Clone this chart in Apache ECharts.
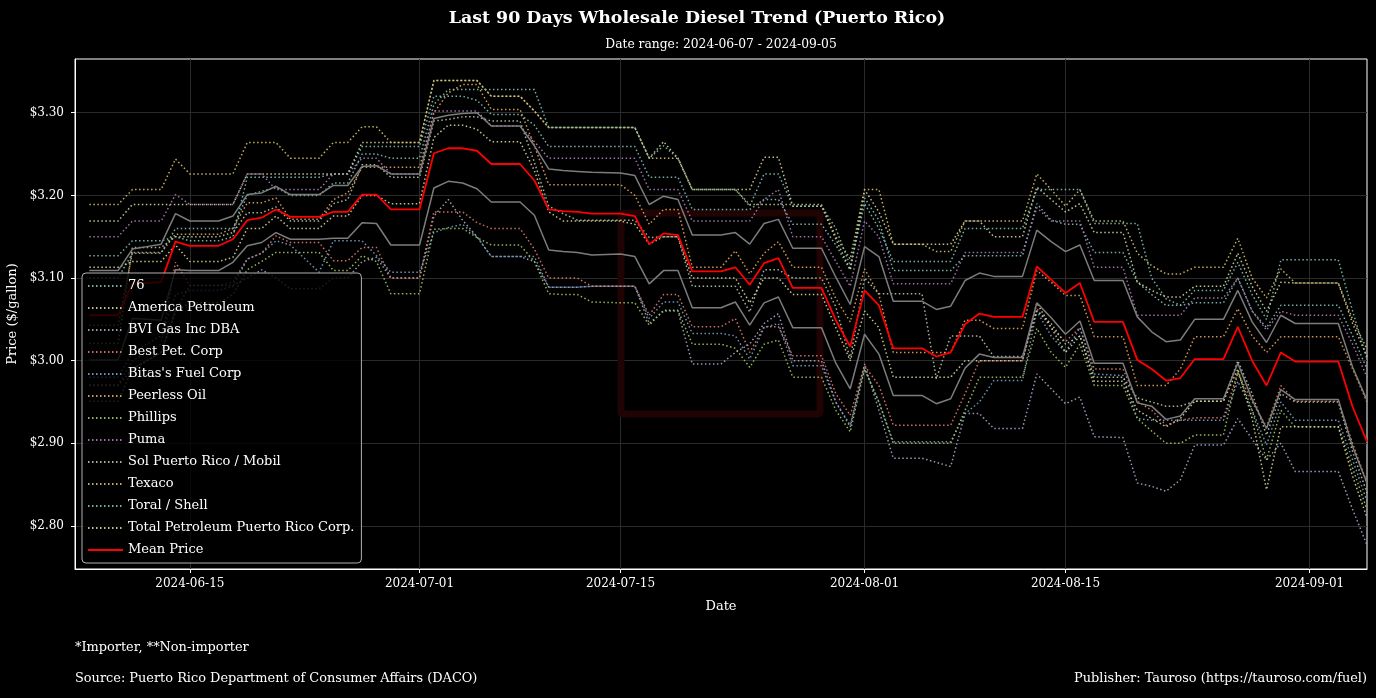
<!DOCTYPE html>
<html><head><meta charset="utf-8">
<script src="https://cdn.jsdelivr.net/npm/echarts@6/dist/echarts.min.js"></script>
<style>html,body{margin:0;padding:0;background:#000;}#c{width:1376px;height:698px;}</style>
</head><body><div id="c"></div>
<script>
const dates = [
'2024-06-08',
'2024-06-10','2024-06-11','2024-06-12','2024-06-13','2024-06-14','2024-06-15',
'2024-06-17','2024-06-18','2024-06-19','2024-06-20','2024-06-21','2024-06-22',
'2024-06-24','2024-06-25','2024-06-26','2024-06-27','2024-06-28','2024-06-29',
'2024-07-01','2024-07-02','2024-07-03','2024-07-04','2024-07-05','2024-07-06',
'2024-07-08','2024-07-09','2024-07-10','2024-07-11','2024-07-12','2024-07-13',
'2024-07-15','2024-07-16','2024-07-17','2024-07-18','2024-07-19','2024-07-20',
'2024-07-22','2024-07-23','2024-07-24','2024-07-25','2024-07-26','2024-07-27',
'2024-07-29','2024-07-30','2024-07-31','2024-08-01','2024-08-02','2024-08-03',
'2024-08-05','2024-08-06','2024-08-07','2024-08-08','2024-08-09','2024-08-10',
'2024-08-12','2024-08-13','2024-08-14','2024-08-15','2024-08-16','2024-08-17',
'2024-08-19','2024-08-20','2024-08-21','2024-08-22','2024-08-23','2024-08-24',
'2024-08-26','2024-08-27','2024-08-28','2024-08-29','2024-08-30','2024-08-31',
'2024-09-02','2024-09-03','2024-09-04','2024-09-05'];

const meanPrice = [
3.055,
3.055,3.093,3.094,3.095,3.144,3.139,
3.139,3.147,3.170,3.173,3.183,3.174,
3.174,3.180,3.180,3.201,3.201,3.183,
3.183,3.251,3.257,3.257,3.254,3.238,
3.238,3.218,3.183,3.181,3.180,3.178,
3.178,3.175,3.141,3.154,3.152,3.108,
3.108,3.113,3.092,3.118,3.124,3.088,
3.088,3.049,3.017,3.085,3.067,3.015,
3.015,3.005,3.010,3.044,3.057,3.053,
3.053,3.114,3.098,3.082,3.094,3.047,
3.047,3.001,2.990,2.976,2.979,3.002,
3.002,3.041,3.000,2.970,3.010,2.999,
2.999,2.999,2.944,2.902];

const stdDev = [
0.054,
0.054,0.042,0.044,0.046,0.034,0.030,
0.030,0.028,0.031,0.030,0.028,0.027,
0.027,0.032,0.032,0.034,0.035,0.043,
0.043,0.042,0.040,0.042,0.046,0.046,
0.046,0.042,0.049,0.049,0.049,0.050,
0.049,0.049,0.048,0.045,0.043,0.044,
0.044,0.042,0.049,0.048,0.047,0.048,
0.048,0.052,0.051,0.053,0.059,0.057,
0.057,0.057,0.056,0.053,0.049,0.049,
0.049,0.044,0.046,0.050,0.046,0.050,
0.050,0.052,0.045,0.047,0.046,0.048,
0.048,0.044,0.047,0.052,0.045,0.046,
0.046,0.046,0.048,0.050];

const p76 = [
3.127,
3.127,3.145,3.145,3.145,3.150,3.145,
3.145,3.150,3.222,3.222,3.222,3.222,
3.222,3.226,3.226,3.259,3.259,3.259,
3.259,3.320,3.320,3.320,3.315,3.298,
3.298,3.285,3.259,3.259,3.259,3.259,
3.259,3.259,3.222,3.222,3.222,3.183,
3.183,3.183,3.183,3.195,3.195,3.165,
3.165,3.140,3.110,3.197,3.170,3.109,
3.109,3.109,3.109,3.127,3.127,3.127,
3.127,3.190,3.170,3.165,3.165,3.131,
3.131,3.095,3.080,3.067,3.067,3.070,
3.070,3.100,3.060,3.040,3.067,3.067,
3.067,3.067,3.030,2.990];

const pAmerica = [
3.169,
3.169,3.189,3.189,3.189,3.189,3.189,
3.189,3.189,3.226,3.226,3.226,3.226,
3.226,3.226,3.226,3.264,3.264,3.264,
3.264,3.339,3.339,3.339,3.339,3.320,
3.320,3.302,3.282,3.282,3.282,3.282,
3.282,3.282,3.245,3.265,3.245,3.207,
3.207,3.207,3.207,3.246,3.246,3.187,
3.187,3.147,3.110,3.207,3.180,3.141,
3.141,3.141,3.141,3.169,3.169,3.150,
3.150,3.210,3.195,3.180,3.190,3.155,
3.155,3.095,3.085,3.077,3.077,3.090,
3.090,3.130,3.090,3.060,3.095,3.094,
3.094,3.094,3.045,3.005];

const pBVI = [
2.970,
2.970,2.990,3.000,3.010,3.060,3.091,
3.091,3.091,3.100,3.110,3.100,3.087,
3.087,3.100,3.100,3.120,3.125,3.100,
3.100,3.175,3.195,3.170,3.150,3.126,
3.126,3.120,3.089,3.089,3.089,3.090,
3.090,3.090,3.045,3.060,3.060,2.996,
2.996,3.010,3.020,3.045,3.057,3.000,
3.000,2.950,2.920,2.996,2.940,2.882,
2.882,2.877,2.872,2.936,2.936,2.918,
2.918,2.984,2.966,2.948,2.956,2.908,
2.907,2.852,2.848,2.842,2.856,2.898,
2.898,2.930,2.905,2.880,2.900,2.866,
2.866,2.866,2.820,2.777];

const pBest = [
2.971,
2.971,3.000,3.010,3.020,3.119,3.091,
3.091,3.095,3.123,3.130,3.151,3.143,
3.143,3.121,3.121,3.137,3.137,3.100,
3.100,3.180,3.180,3.180,3.167,3.160,
3.160,3.135,3.100,3.100,3.100,3.090,
3.090,3.090,3.055,3.080,3.080,3.041,
3.041,3.051,3.010,3.041,3.041,3.006,
3.006,2.960,2.934,2.994,2.970,2.922,
2.922,2.922,2.922,2.960,3.000,3.000,
3.000,3.063,3.040,3.023,3.040,2.990,
2.990,2.951,2.940,2.922,2.928,2.931,
2.931,2.986,2.950,2.920,2.970,2.951,
2.951,2.951,2.900,2.852];

const pBitas = [
2.980,
2.980,3.010,3.020,3.030,3.080,3.085,
3.085,3.090,3.123,3.130,3.145,3.140,
3.107,3.145,3.145,3.145,3.127,3.107,
3.107,3.155,3.161,3.165,3.150,3.126,
3.126,3.126,3.089,3.089,3.089,3.090,
3.090,3.090,3.051,3.071,3.071,3.033,
3.033,3.030,3.002,3.040,3.045,2.994,
2.994,2.950,2.922,2.990,2.950,2.902,
2.902,2.902,2.902,2.936,2.950,2.976,
2.976,3.060,3.030,3.010,3.040,2.984,
2.982,2.930,2.928,2.928,2.928,2.928,
2.928,2.975,2.940,2.898,2.950,2.928,
2.928,2.928,2.880,2.830];

const pPeerless = [
3.043,
3.043,3.131,3.131,3.131,3.153,3.153,
3.153,3.160,3.191,3.191,3.197,3.171,
3.171,3.195,3.203,3.234,3.234,3.234,
3.234,3.300,3.324,3.334,3.334,3.304,
3.304,3.260,3.213,3.213,3.213,3.213,
3.213,3.200,3.165,3.183,3.183,3.113,
3.113,3.133,3.105,3.130,3.144,3.113,
3.113,3.075,3.047,3.111,3.080,3.010,
3.010,3.010,3.010,3.049,3.049,3.039,
3.039,3.109,3.095,3.079,3.079,3.029,
3.029,2.970,2.970,2.970,2.990,3.029,
3.029,3.063,3.030,3.010,3.029,3.029,
3.029,3.029,2.990,2.950];

const pPhillips = [
2.951,
2.951,2.990,3.000,3.010,3.060,3.070,
3.070,3.080,3.110,3.120,3.131,3.131,
3.131,3.109,3.109,3.127,3.120,3.081,
3.081,3.159,3.160,3.160,3.149,3.140,
3.140,3.120,3.081,3.080,3.080,3.071,
3.070,3.070,3.043,3.061,3.061,3.020,
3.020,3.015,2.992,3.020,3.025,2.980,
2.980,2.940,2.914,2.990,2.950,2.900,
2.900,2.900,2.900,2.940,2.980,2.980,
2.980,3.039,3.010,2.992,3.020,2.970,
2.970,2.930,2.915,2.900,2.900,2.910,
2.910,2.986,2.940,2.880,2.940,2.920,
2.920,2.920,2.870,2.820];

const pPuma = [
3.150,
3.150,3.169,3.169,3.169,3.201,3.189,
3.189,3.189,3.226,3.226,3.207,3.207,
3.207,3.226,3.226,3.245,3.245,3.226,
3.226,3.302,3.302,3.302,3.302,3.284,
3.284,3.265,3.245,3.245,3.245,3.245,
3.245,3.245,3.207,3.207,3.207,3.169,
3.169,3.169,3.169,3.195,3.207,3.150,
3.150,3.120,3.090,3.169,3.150,3.093,
3.093,3.093,3.093,3.131,3.131,3.131,
3.131,3.185,3.169,3.169,3.169,3.113,
3.113,3.055,3.055,3.055,3.055,3.076,
3.076,3.100,3.060,3.037,3.060,3.055,
3.055,3.055,3.020,2.980];

const pSol = [
3.021,
3.021,3.137,3.137,3.137,3.150,3.150,
3.150,3.155,3.179,3.179,3.186,3.169,
3.169,3.190,3.195,3.237,3.237,3.222,
3.222,3.290,3.292,3.295,3.295,3.290,
3.290,3.240,3.187,3.178,3.170,3.170,
3.170,3.170,3.149,3.150,3.150,3.090,
3.090,3.090,3.059,3.110,3.110,3.100,
3.100,3.065,3.002,3.100,3.081,3.081,
3.081,2.978,3.030,3.030,3.030,3.005,
3.005,3.060,3.045,3.020,3.030,2.980,
2.980,2.955,2.950,2.945,2.945,2.951,
2.951,3.000,2.960,2.910,2.960,2.950,
2.950,2.950,2.890,2.840];

const pTexaco = [
3.189,
3.189,3.207,3.207,3.207,3.244,3.226,
3.226,3.226,3.264,3.264,3.264,3.245,
3.245,3.264,3.264,3.283,3.283,3.264,
3.264,3.339,3.339,3.339,3.339,3.320,
3.320,3.302,3.282,3.282,3.282,3.282,
3.282,3.282,3.245,3.245,3.245,3.207,
3.207,3.207,3.189,3.189,3.189,3.189,
3.189,3.150,3.123,3.207,3.207,3.141,
3.141,3.132,3.132,3.169,3.169,3.169,
3.169,3.226,3.207,3.187,3.207,3.169,
3.169,3.130,3.115,3.105,3.105,3.113,
3.113,3.148,3.100,3.076,3.111,3.094,
3.094,3.094,3.050,3.014];

const pToral = [
3.100,
3.100,3.130,3.130,3.130,3.160,3.160,
3.160,3.160,3.200,3.205,3.210,3.200,
3.200,3.215,3.215,3.250,3.250,3.245,
3.245,3.310,3.328,3.328,3.328,3.328,
3.328,3.328,3.282,3.282,3.282,3.282,
3.282,3.282,3.245,3.260,3.245,3.207,
3.207,3.207,3.187,3.226,3.226,3.187,
3.187,3.160,3.115,3.190,3.160,3.120,
3.120,3.120,3.120,3.160,3.160,3.160,
3.160,3.207,3.207,3.207,3.207,3.166,
3.166,3.166,3.100,3.075,3.067,3.085,
3.085,3.119,3.080,3.050,3.122,3.122,
3.122,3.122,3.060,3.002];

const pTotal = [
3.113,
3.113,3.120,3.120,3.120,3.140,3.120,
3.120,3.125,3.160,3.160,3.175,3.160,
3.160,3.175,3.175,3.200,3.200,3.190,
3.190,3.270,3.285,3.285,3.280,3.265,
3.265,3.230,3.180,3.169,3.169,3.169,
3.169,3.165,3.141,3.150,3.150,3.100,
3.100,3.100,3.070,3.100,3.100,3.080,
3.080,3.040,3.000,3.060,3.040,2.980,
2.980,2.980,2.980,3.000,3.000,3.000,
3.000,3.070,3.040,3.010,3.030,2.975,
2.975,2.940,2.930,2.920,2.930,2.951,
2.951,2.990,2.930,2.844,2.920,2.920,
2.920,2.920,2.860,2.810];

const stationNames = ['76','America Petroleum','BVI Gas Inc DBA','Best Pet. Corp',"Bitas's Fuel Corp",'Peerless Oil','Phillips','Puma','Sol Puerto Rico / Mobil','Texaco','Toral / Shell','Total Petroleum Puerto Rico Corp.'];
const stationValues = [p76,pAmerica,pBVI,pBest,pBitas,pPeerless,pPhillips,pPuma,pSol,pTexaco,pToral,pTotal];
const stationColors = ['#7fc1b6','#d6d59c','#a9a7c8','#e27b6e','#76a2c6','#e6a55c','#a2c862','#b07cb9','#b6c8a8','#d6c266','#7fc1b6','#d6d59c'];
const xTickDates = ['2024-06-15','2024-07-01','2024-07-15','2024-08-01','2024-08-15','2024-09-01'];
const yTickValues = [2.8,2.9,3.0,3.1,3.2,3.3];

const FONT = "'DejaVu Serif', serif";
function ts(s){const p=s.split('-').map(Number);return Date.UTC(p[0],p[1]-1,p[2]);}
function fmtDate(v){const d=new Date(v);return d.getUTCFullYear()+'-'+String(d.getUTCMonth()+1).padStart(2,'0')+'-'+String(d.getUTCDate()).padStart(2,'0');}
function pairs(vals){return dates.map((d,i)=>[ts(d),vals[i]]);}

const series = [];
stationNames.forEach((n,i)=>{
  series.push({name:n,type:'line',data:pairs(stationValues[i]),symbol:'none',silent:true,
    lineStyle:{color:stationColors[i],width:1.5,type:[1.5,2.5],opacity:0.9},itemStyle:{color:stationColors[i]},z:2});
});
const lower = meanPrice.map((m,i)=>+(m-stdDev[i]).toFixed(4));
const upper = meanPrice.map((m,i)=>+(m+stdDev[i]).toFixed(4));
const width2 = stdDev.map(s=>+(2*s).toFixed(4));
series.push({name:'bandBase',type:'line',stack:'band',data:pairs(lower),symbol:'none',silent:true,lineStyle:{opacity:0},z:3});
series.push({name:'bandFill',type:'line',stack:'band',data:pairs(width2),symbol:'none',silent:true,lineStyle:{opacity:0},areaStyle:{color:'rgba(255,255,255,0.2)'},z:3});
series.push({name:'bandUpper',type:'line',data:pairs(upper),symbol:'none',silent:true,lineStyle:{color:'#7c7c7c',width:1.5},z:3});
series.push({name:'bandLower',type:'line',data:pairs(lower),symbol:'none',silent:true,lineStyle:{color:'#7c7c7c',width:1.5},z:3});
series.push({name:'Mean Price',type:'line',data:pairs(meanPrice),symbol:'none',silent:true,lineStyle:{color:'#ff0000',width:1.8},itemStyle:{color:'#ff0000'},z:4});

const chart = echarts.init(document.getElementById('c'),null,{renderer:'canvas'});
chart.setOption({
  backgroundColor:'#000',
  animation:false,
  textStyle:{fontFamily:FONT},
  grid:{left:75,top:59,width:1292,height:510,show:true,borderColor:'#ffffff',borderWidth:1,backgroundColor:'transparent',containLabel:false,outerBoundsMode:'none'},
  xAxis:{type:'value',min:ts('2024-06-07'),max:ts('2024-09-05'),
    name:'Date',nameLocation:'middle',nameGap:31,nameTextStyle:{color:'#fff',fontSize:13,fontFamily:FONT},
    axisLine:{show:true,lineStyle:{color:'#fff'}},
    axisTick:{show:true,inside:false,length:4,lineStyle:{color:'#fff'},customValues:xTickDates.map(ts)},
    axisLabel:{color:'#fff',fontSize:12,fontFamily:FONT,margin:9,customValues:xTickDates.map(ts),formatter:fmtDate},
    splitLine:{show:true,lineStyle:{color:'#2b2b2b',width:1}}
  },
  yAxis:{type:'value',min:2.748,max:3.365,
    name:'Price ($/gallon)',nameLocation:'middle',nameGap:46,nameTextStyle:{color:'#fff',fontSize:13,fontFamily:FONT},
    axisLine:{show:true,lineStyle:{color:'#fff'}},
    axisTick:{show:true,inside:false,length:4,lineStyle:{color:'#fff'},customValues:yTickValues},
    axisLabel:{color:'#fff',fontSize:12,fontFamily:FONT,margin:11,customValues:yTickValues,
      formatter:function(v){return '$'+Number(v).toFixed(2);}},
    splitLine:{show:true,lineStyle:{color:'#2b2b2b',width:1}}
  },
  legend:{show:true,orient:'vertical',left:82,top:273,
    data:stationNames.concat(['Mean Price']),
    itemWidth:35,itemHeight:14,itemGap:8,
    padding:[6,7,6,5],
    itemStyle:{opacity:0},
    backgroundColor:'rgba(0,0,0,0.8)',borderColor:'#b0b0b0',borderWidth:1,borderRadius:4,
    textStyle:{color:'#fff',fontSize:13,fontFamily:FONT,lineHeight:14},
    selectedMode:false,z:10},
  graphic:[
    {type:'rect',z:1,silent:true,shape:{x:621,y:213,width:199,height:201,r:2},style:{fill:'none',stroke:'#200404',lineWidth:7}},
    {type:'text',silent:true,style:{x:697,y:18,text:'Last 90 Days Wholesale Diesel Trend (Puerto Rico)',textAlign:'center',textVerticalAlign:'middle',fill:'#fff',font:"bold 17.4px 'DejaVu Serif', serif"}},
    {type:'text',silent:true,style:{x:721,y:45,text:'Date range: 2024-06-07 - 2024-09-05',textAlign:'center',textVerticalAlign:'middle',fill:'#fff',font:"12.3px 'DejaVu Serif', serif"}},
    {type:'text',silent:true,style:{x:75,y:648,text:'*Importer, **Non-importer',textAlign:'left',textVerticalAlign:'middle',fill:'#fff',font:"12.9px 'DejaVu Serif', serif"}},
    {type:'text',silent:true,style:{x:75,y:679,text:'Source: Puerto Rico Department of Consumer Affairs (DACO)',textAlign:'left',textVerticalAlign:'middle',fill:'#fff',font:"12.9px 'DejaVu Serif', serif"}},
    {type:'text',silent:true,style:{x:1367,y:679,text:'Publisher: Tauroso (https://tauroso.com/fuel)',textAlign:'right',textVerticalAlign:'middle',fill:'#fff',font:"12.9px 'DejaVu Serif', serif"}}
  ],
  series:series
});
</script></body></html>
